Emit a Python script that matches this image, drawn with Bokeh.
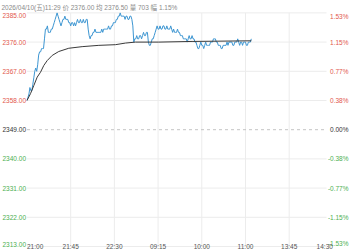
from bokeh.plotting import figure
from bokeh.models import ColumnDataSource, LabelSet, Label, Range1d
from bokeh.core.properties import value
from bokeh.embed import file_html
from bokeh.resources import INLINE

# ---- data : one price per trading minute from 21:00 ----
prices = [
    2358, 2359, 2360, 2362, 2361, 2361, 2363, 2365, 2367, 2368,
    2367, 2369, 2372, 2373, 2373, 2374, 2374, 2374, 2377, 2380,
    2380, 2381, 2379, 2379, 2379, 2380, 2380, 2381, 2382, 2383,
    2384, 2385, 2384, 2383, 2382, 2381, 2382, 2383, 2383, 2384,
    2383, 2383, 2383, 2382, 2382, 2381, 2382, 2382, 2381, 2382,
    2381, 2382, 2383, 2382, 2382, 2383, 2382, 2382, 2383, 2382,
    2382, 2383, 2383, 2380, 2378, 2377, 2378, 2378, 2379, 2379,
    2380, 2379, 2379, 2379, 2379, 2379, 2379, 2380, 2379, 2380,
    2380, 2380, 2380, 2380, 2381, 2380, 2380, 2381, 2381, 2382,
    2382, 2382, 2383, 2383, 2384, 2384, 2385, 2384, 2384, 2384,
    2384, 2383, 2384, 2384, 2383, 2383, 2384, 2384, 2383, 2381,
    2376, 2377, 2377, 2378, 2377, 2377, 2378, 2378, 2377, 2378,
    2379, 2378, 2378, 2379, 2379, 2376, 2375, 2375, 2376, 2377,
    2377, 2378, 2379, 2380, 2381, 2380, 2380, 2381, 2380, 2380,
    2381, 2381, 2380, 2380, 2381, 2380, 2380, 2380, 2381, 2380,
    2379, 2380, 2379, 2379, 2379, 2380, 2379, 2379, 2378, 2378,
    2378, 2377, 2377, 2377, 2377, 2376, 2377, 2378, 2377, 2377,
    2378, 2377, 2377, 2376, 2376, 2375, 2374, 2374, 2375, 2376,
    2375, 2375, 2374, 2375, 2376, 2375, 2375, 2375, 2375, 2376,
    2376, 2376, 2377, 2377, 2377, 2376, 2376, 2375, 2375, 2375,
    2374, 2374, 2375, 2375, 2375, 2375, 2376, 2375, 2376, 2376,
    2376, 2376, 2375, 2375, 2376, 2376, 2376, 2377, 2376, 2375,
    2376, 2376, 2375, 2376, 2376, 2376, 2375, 2375, 2376, 2376,
    2376, 2377,
]
minutes = list(range(len(prices)))

avg_minutes = [0, 3.6, 7, 10.5, 13.9, 17.3, 20.8, 26, 32.7, 43, 56.8, 74, 91,
               101.4, 111.7, 135.7, 170, 231]
avg_values = [2358.0, 2360.1, 2362.6, 2365.2, 2366.7, 2368.8, 2370.3, 2371.9, 2373.1,
              2374.1, 2374.6, 2375.0, 2375.2, 2375.7, 2376.0, 2376.0, 2376.2, 2376.4]

prev_close = 2349
y_ticks = [2385, 2376, 2367, 2358, 2349, 2340, 2331, 2322, 2313]
y_tick_labels = ["2385.00", "2376.00", "2367.00", "2358.00", "2349.00",
                 "2340.00", "2331.00", "2322.00", "2313.00"]
pct_labels = ["1.53%", "1.15%", "0.77%", "0.38%", "0.00%",
              "-0.38%", "-0.77%", "-1.15%", "-1.53%"]
x_ticks = [0, 45, 90, 135, 180, 225, 270, 315]
x_tick_labels = ["21:00", "21:45", "22:30", "09:15", "10:00", "11:00", "13:45", "14:30"]
header = "2026/04/10(五)11:29  价 2376.00  均 2376.50  量 703  幅 1.15%"

# ---- layout (pixels) ----
W, H = 350, 250
PLOT_L, PLOT_R, PLOT_T, PLOT_B = 26.5, 326.0, 12.4, 246.0
X_MIN, Y_MIN, Y_MAX = 0, min(y_ticks), max(y_ticks)
PX_PER_MIN = 0.971
px_per_unit = (PLOT_B - PLOT_T) / (Y_MAX - Y_MIN)
X_MAX = X_MIN + (PLOT_R - PLOT_L) / PX_PER_MIN

RED = "#e2574c"
GREEN = "#4caf50"
NEUTRAL = "#333333"
FONT = "Liberation Sans, Noto Sans CJK SC"
FS = "6.5px"

p = figure(width=W, height=H, output_backend="svg", toolbar_location=None,
           x_axis_type=None, y_axis_type=None,
           x_range=Range1d(X_MIN - PLOT_L / PX_PER_MIN, X_MIN + (W - PLOT_L) / PX_PER_MIN),
           y_range=Range1d(Y_MIN - (H - PLOT_B) / px_per_unit, Y_MAX + PLOT_T / px_per_unit),
           min_border=0)
p.outline_line_color = None
p.background_fill_color = "white"
p.border_fill_color = "white"

# grid lines bounded to the chart area
h_grid = [t for t in y_ticks if t != prev_close]
p.segment(x0=[X_MIN] * len(h_grid), x1=[X_MAX] * len(h_grid), y0=h_grid, y1=h_grid,
          line_color="#ececec", line_width=1)
v_grid = [t for t in x_ticks if X_MIN < t < X_MAX]
p.segment(x0=v_grid, x1=v_grid, y0=[Y_MIN] * len(v_grid), y1=[Y_MAX] * len(v_grid),
          line_color="#ececec", line_width=1)
p.segment(x0=[X_MIN], x1=[X_MAX], y0=[prev_close], y1=[prev_close],
          line_color="#c4c4c4", line_dash="3 3", line_width=1)

p.line(minutes, prices, line_color="#3d96d2", line_width=1)
p.line(avg_minutes, avg_values, line_color="#3a3a3a", line_width=1)

colors = [RED if t > prev_close else (NEUTRAL if t == prev_close else GREEN) for t in y_ticks]
baselines = ["top"] + ["middle"] * (len(y_ticks) - 2) + ["bottom"]
ysrc = ColumnDataSource(dict(y=y_ticks, lab=y_tick_labels, pct=pct_labels,
                             col=colors, base=baselines,
                             xl=[PLOT_L - 1] * len(y_ticks), xr=[W - 2] * len(y_ticks)))
p.add_layout(LabelSet(x="xl", y="y", text="lab", source=ysrc, x_units="screen",
                      text_align="right", text_baseline="base", text_color="col",
                      text_font=value(FONT), text_font_size=FS))
p.add_layout(LabelSet(x="xr", y="y", text="pct", source=ysrc, x_units="screen",
                      text_align="right", text_baseline="base", text_color="col",
                      text_font=value(FONT), text_font_size=FS))

aligns = ["left"] + ["center"] * (len(x_ticks) - 2) + ["right"]
xsrc = ColumnDataSource(dict(x=x_ticks, lab=x_tick_labels, al=aligns, y=[7.5] * len(x_ticks)))
p.add_layout(LabelSet(x="x", y="y", text="lab", source=xsrc, y_units="screen",
                      text_align="al", text_baseline="top", text_color="#555555",
                      text_font=value(FONT), text_font_size=FS))

p.add_layout(Label(x=1, y=H - 7, x_units="screen", y_units="screen", text=header,
                   text_align="left", text_baseline="alphabetic", text_color="#8a8a8a",
                   text_font=FONT, text_font_size="6.5px"))

open("out.html", "w").write(file_html(p, INLINE))
